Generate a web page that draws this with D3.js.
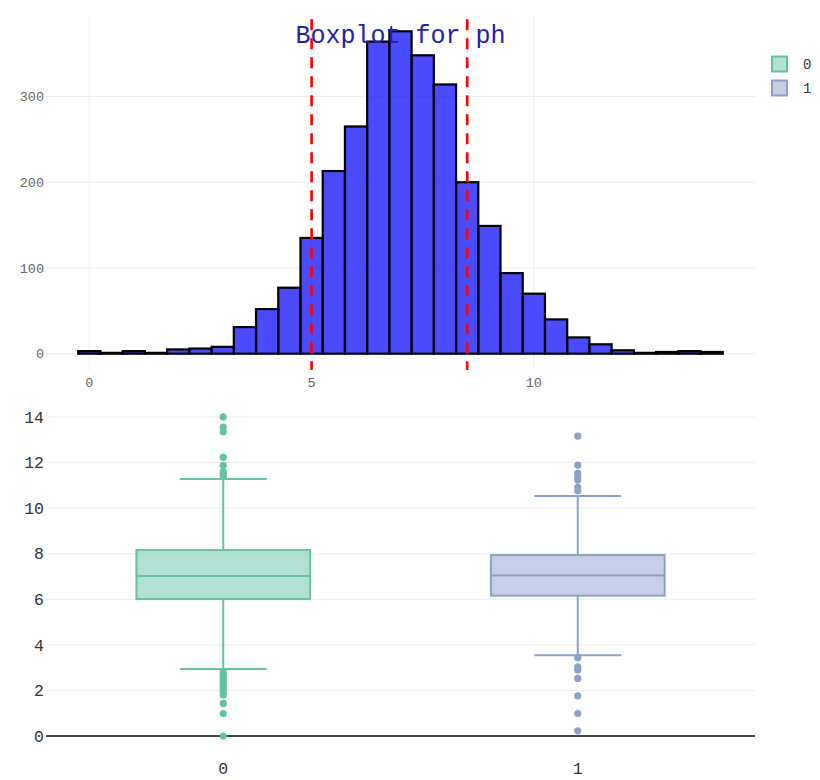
<!DOCTYPE html>
<html>
<head>
<meta charset="utf-8">
<script src="https://cdn.jsdelivr.net/npm/d3@7"></script>
<style>
  body { margin: 0; background: #fff; }
  svg { display: block; }
</style>
</head>
<body>
<svg id="chart" width="820" height="780"></svg>
<script>
// ---------- Data ----------
const titleText = "Boxplot for ph";
const binCenters = [0, 0.5, 1, 1.5, 2, 2.5, 3, 3.5, 4, 4.5, 5, 5.5, 6, 6.5, 7, 7.5, 8, 8.5, 9, 9.5, 10, 10.5, 11, 11.5, 12, 12.5, 13, 13.5, 14];
const binCounts  = [3, 1, 3, 1, 5, 6, 8, 31, 52, 77, 135, 213, 265, 364, 376, 348, 314, 200, 149, 94, 70, 40, 19, 11, 4, 1, 2, 3, 2];
const binWidth = 0.5;
const refLines = [5, 8.5];
const histXTicks = [0, 5, 10];
const histYTicks = [0, 100, 200, 300];

const groups = ["0", "1"];
const q1s = [6.01, 6.16];
const medians = [7.02, 7.04];
const q3s = [8.16, 7.94];
const lowerFences = [2.94, 3.54];
const upperFences = [11.28, 10.53];
const outliers0 = [14.0, 13.56, 13.35, 12.23, 11.88, 11.6, 11.5, 11.38, 2.82, 2.7, 2.6, 2.48, 2.38, 2.25, 2.16, 2.05, 1.94, 1.8, 1.43, 0.99, 0.0];
const outliers1 = [13.16, 11.89, 11.53, 11.35, 11.23, 10.91, 10.76, 3.44, 3.04, 2.9, 2.53, 1.76, 0.99, 0.23];
const boxYTicks = [0, 2, 4, 6, 8, 10, 12, 14];
const boxColors = ["#66c2a5", "#8da0cb"];
const boxFills = ["rgba(102,194,165,0.5)", "rgba(141,160,203,0.5)"];

// ---------- Layout ----------
const svg = d3.select("#chart");
const font = "'Courier New', 'Liberation Mono', monospace";
const plotL = 46, plotR = 755;

// ---------- Top: histogram ----------
const hx = d3.scaleLinear().domain([-0.975, 14.975]).range([plotL, plotR]);
const hy = d3.scaleLinear().domain([-19, 395]).range([370, 15]);

const histG = svg.append("g");
histG.selectAll("line.vg").data(histXTicks).enter().append("line")
  .attr("x1", d => hx(d)).attr("x2", d => hx(d))
  .attr("y1", hy.range()[1]).attr("y2", hy.range()[0])
  .attr("stroke", "#eee").attr("stroke-width", 1);
histG.selectAll("line.hg").data(histYTicks).enter().append("line")
  .attr("x1", plotL).attr("x2", plotR)
  .attr("y1", d => hy(d)).attr("y2", d => hy(d))
  .attr("stroke", "#eee").attr("stroke-width", 1);

histG.selectAll("rect.bar").data(binCenters).enter().append("rect")
  .attr("x", d => hx(d - binWidth / 2))
  .attr("width", d => hx(d + binWidth / 2) - hx(d - binWidth / 2))
  .attr("y", (d, i) => hy(binCounts[i]))
  .attr("height", (d, i) => hy(0) - hy(binCounts[i]))
  .attr("fill", "rgba(0,0,255,0.71)")
  .attr("stroke", "#000").attr("stroke-width", 2.2);

histG.selectAll("line.ref").data(refLines).enter().append("line")
  .attr("x1", d => hx(d)).attr("x2", d => hx(d))
  .attr("y1", hy(390)).attr("y2", hy(-19))
  .attr("stroke", "red").attr("stroke-width", 2.6)
  .attr("stroke-dasharray", "11,8");

histG.selectAll("text.yt").data(histYTicks).enter().append("text")
  .attr("x", 44).attr("y", d => hy(d)).attr("dy", "0.35em")
  .attr("text-anchor", "end").attr("font-family", font).attr("font-size", 13.5)
  .attr("fill", "#666").text(d => d);
histG.selectAll("text.xt").data(histXTicks).enter().append("text")
  .attr("x", d => hx(d)).attr("y", 382).attr("dy", "0.35em")
  .attr("text-anchor", "middle").attr("font-family", font).attr("font-size", 13.5)
  .attr("fill", "#666").text(d => d);

// ---------- Bottom: boxplots ----------
const bx = d3.scaleBand().domain(groups).range([plotL, plotR]);
const by = d3.scaleLinear().domain([-0.7, 14.7]).range([752, 401]);
const boxG = svg.append("g");

boxG.selectAll("line.bg").data(boxYTicks.filter(d => d !== 0)).enter().append("line")
  .attr("x1", plotL).attr("x2", plotR)
  .attr("y1", d => by(d)).attr("y2", d => by(d))
  .attr("stroke", "#eee").attr("stroke-width", 1);
boxG.append("line")
  .attr("x1", plotL).attr("x2", plotR)
  .attr("y1", by(0)).attr("y2", by(0))
  .attr("stroke", "#444").attr("stroke-width", 2);

const boxFrac = 0.49;
const outlierSets = [outliers0, outliers1];
groups.forEach((g, i) => {
  const cx = bx(g) + bx.bandwidth() / 2;
  const hw = bx.bandwidth() * boxFrac / 2;
  const col = boxColors[i];
  const gg = boxG.append("g");
  gg.append("line").attr("x1", cx).attr("x2", cx)
    .attr("y1", by(q3s[i])).attr("y2", by(upperFences[i]))
    .attr("stroke", col).attr("stroke-width", 2);
  gg.append("line").attr("x1", cx).attr("x2", cx)
    .attr("y1", by(q1s[i])).attr("y2", by(lowerFences[i]))
    .attr("stroke", col).attr("stroke-width", 2);
  [upperFences[i], lowerFences[i]].forEach(v => {
    gg.append("line").attr("x1", cx - hw / 2).attr("x2", cx + hw / 2)
      .attr("y1", by(v)).attr("y2", by(v))
      .attr("stroke", col).attr("stroke-width", 2);
  });
  gg.append("rect").attr("x", cx - hw).attr("width", 2 * hw)
    .attr("y", by(q3s[i])).attr("height", by(q1s[i]) - by(q3s[i]))
    .attr("fill", boxFills[i]).attr("stroke", col).attr("stroke-width", 2);
  gg.append("line").attr("x1", cx - hw).attr("x2", cx + hw)
    .attr("y1", by(medians[i])).attr("y2", by(medians[i]))
    .attr("stroke", col).attr("stroke-width", 2);
  gg.selectAll("circle").data(outlierSets[i]).enter().append("circle")
    .attr("cx", cx).attr("cy", d => by(d)).attr("r", 3.6)
    .attr("fill", col);
});

boxG.selectAll("text.byt").data(boxYTicks).enter().append("text")
  .attr("x", 44).attr("y", d => by(d)).attr("dy", "0.35em")
  .attr("text-anchor", "end").attr("font-family", font).attr("font-size", 16.5)
  .attr("fill", "#333").text(d => d);
boxG.selectAll("text.bxt").data(groups).enter().append("text")
  .attr("x", d => bx(d) + bx.bandwidth() / 2).attr("y", 768).attr("dy", "0.35em")
  .attr("text-anchor", "middle").attr("font-family", font).attr("font-size", 16.5)
  .attr("fill", "#333").text(d => d);

// ---------- Legend ----------
const leg = svg.append("g");
groups.forEach((g, i) => {
  const yc = 64 + i * 24;
  leg.append("rect").attr("x", 772).attr("y", yc - 7.5).attr("width", 15).attr("height", 15)
    .attr("fill", boxFills[i]).attr("stroke", boxColors[i]).attr("stroke-width", 2);
  leg.append("text").attr("x", 803).attr("y", yc).attr("dy", "0.35em")
    .attr("font-family", font).attr("font-size", 14).attr("fill", "#333").text(g);
});

// ---------- Title ----------
svg.append("text")
  .attr("x", (plotL + plotR) / 2).attr("y", 43)
  .attr("text-anchor", "middle").attr("font-family", font).attr("font-size", 25)
  .attr("fill", "#2222aa").text(titleText);
</script>
</body>
</html>
